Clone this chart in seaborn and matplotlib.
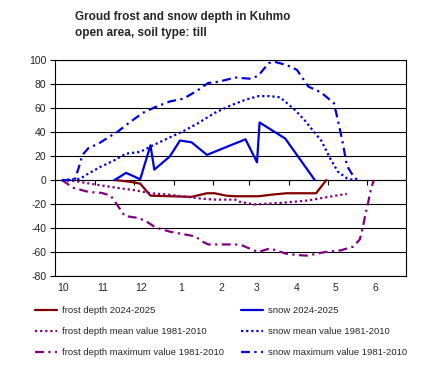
import numpy as np
import pandas as pd
import seaborn as sns
import matplotlib
matplotlib.use("Agg")
import matplotlib.pyplot as plt

# x values are days counted from 1 October
month_labels = ["10", "11", "12", "1", "2", "3", "4", "5", "6"]
month_lengths = [31, 30, 31, 31, 28, 31, 30, 31, 30]

frost_day = [46, 55, 61, 66, 74, 89, 106, 112, 118, 124, 133, 140, 158, 170, 180, 203, 211]
frost_depth = [0, -1, -2, -3, -13, -13.5, -14, -12.5, -11, -11, -13, -13.5, -13.5, -12, -11, -11, 0]

snow_day = [46, 55, 66, 74, 77, 89, 97, 106, 118, 148, 157, 159, 179, 202]
snow_depth = [0, 6, 0.7, 29, 8.7, 19.6, 33, 31.5, 21, 34, 14.8, 48, 34.6, 0]

frost_mean_day = [5, 16, 31, 48, 62, 74, 87, 112, 124, 140, 143, 155, 176, 197, 210, 227]
frost_mean = [0, -1, -3.7, -6.5, -8.5, -11, -12, -15.3, -16.3, -16.3, -18, -20.3, -19, -17, -14.5, -11.5]

snow_mean_day = [5, 19, 25, 35, 45, 55, 66, 76, 90, 100, 112, 124, 136, 148, 158, 167, 175,
                 186, 194, 200, 207, 214, 220, 227, 232]
snow_mean = [0, 1, 5, 11, 16, 22, 23.5, 29, 36, 41, 48, 56, 62, 67, 70, 70, 69,
             59, 50, 42, 33, 18, 7, 1.5, 0]

frost_max_day = [5, 14, 26, 36, 43, 47, 54, 64, 70, 78, 89, 101, 109, 114, 119, 140, 145, 151,
                 158, 167, 180, 189, 196, 201, 210, 222, 232, 237, 238.5, 241, 243.5, 246, 248]
frost_max = [0, -6.5, -10, -10.7, -13, -19, -30, -31.5, -34, -39.5, -43, -45.4, -47, -51, -53.7,
             -53.7, -54.3, -57, -60, -57, -61.5, -62.6, -63, -62, -60, -58.7, -55.5, -49.6, -44,
             -31, -19, -6.5, 0]

snow_max_day = [5, 15, 18, 21, 26, 33, 41, 48, 57, 68, 78, 89, 100, 111, 119, 127, 140, 152, 158,
                166, 171, 180, 188, 197, 207, 217, 221, 224, 227, 231, 235]
snow_max = [0, 0, 10, 21, 27, 30, 35.5, 40, 47.5, 56, 61, 65.5, 68, 75, 81, 82, 85.5, 84.5, 87,
            97.5, 98.5, 96, 92, 78, 73, 64, 45, 30, 12, 5, 0]

sns.set_style("white")
plt.rcParams['font.family'] = ['Liberation Sans', 'DejaVu Sans']
plt.rcParams['axes.unicode_minus'] = False

red = "#800000"
blue = "#0000dd"
purple = "#800080"
dotted = (0, (1, 1.3))
dashdot = (0, (4, 2, 1, 2))

fig = plt.figure(figsize=(4.3, 3.76), dpi=100)
ax = fig.add_axes([0.129, 0.266, 0.815, 0.574])

series = [
    (frost_day, frost_depth, red, "-", "frost depth 2024-2025"),
    (frost_mean_day, frost_mean, purple, dotted, "frost depth mean value 1981-2010"),
    (frost_max_day, frost_max, purple, dashdot, "frost depth maximum value 1981-2010"),
    (snow_day, snow_depth, blue, "-", "snow 2024-2025"),
    (snow_mean_day, snow_mean, blue, dotted, "snow mean value 1981-2010"),
    (snow_max_day, snow_max, blue, dashdot, "snow maximum value 1981-2010"),
]
for xs, ys, col, ls, lab in series:
    sns.lineplot(x=xs, y=ys, ax=ax, color=col, linestyle=ls, lw=1.6,
                 estimator=None, sort=False, label=lab, legend=False)

month_starts = np.cumsum([0] + month_lengths)
ax.set_xlim(month_starts[0], month_starts[-1])
ax.set_ylim(-80, 100)
ax.set_yticks(range(-80, 101, 20))
ax.grid(axis='y', color='black', lw=0.8)
ax.grid(axis='x', visible=False)
for s in ax.spines.values():
    s.set_color('black')
    s.set_linewidth(0.8)

ax.set_xticks(month_starts[:-1] + 6)
ax.set_xticklabels(month_labels)
ax.tick_params(axis='x', length=0, pad=5, labelsize=7.5)
ax.tick_params(axis='y', length=3.6, width=0.8, color='black', pad=3, labelsize=7.5, left=True)

# month boundary ticks on the zero line
sec = ax.secondary_xaxis(80 / 180)
sec.set_xticks(month_starts[1:-1])
sec.set_xticklabels([])
sec.tick_params(axis='x', direction='out', length=3.6, width=0.8, color='black')
sec.spines['bottom'].set_linewidth(0.8)

fig.text(75 / 430, 1 - 11 / 376,
         "Groud frost and snow depth in Kuhmo\nopen area, soil type: till",
         ha='left', va='top', fontsize=8.5, fontweight='bold', linespacing=1.45)

handles, labels = ax.get_legend_handles_labels()
fig.legend(handles, labels, ncol=2, loc='upper left', bbox_to_anchor=(0.081, 0.185),
           frameon=False, fontsize=6.8, handlelength=2.4, handletextpad=0.45,
           labelspacing=1.25, columnspacing=1.8, borderaxespad=0, borderpad=0)

fig.savefig("out.png", dpi=100)
